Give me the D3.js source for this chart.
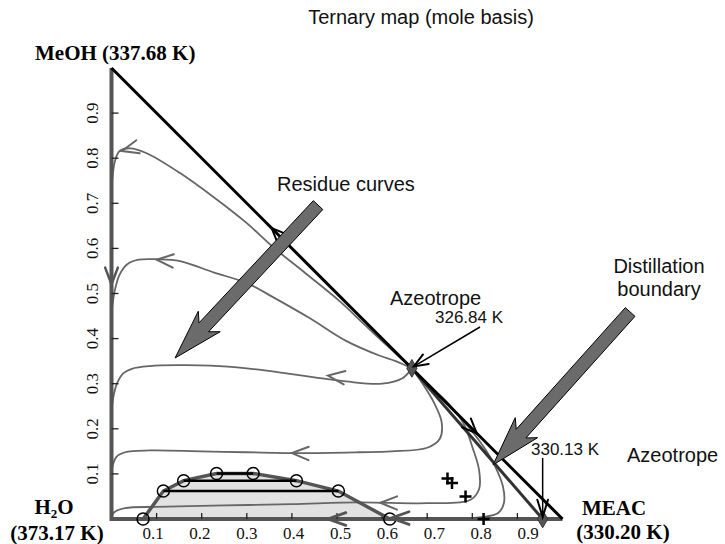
<!DOCTYPE html>
<html>
<head>
<meta charset="utf-8">
<script src="https://cdn.jsdelivr.net/npm/d3@7"></script>
<style>
  body { margin: 0; background: #fff; }
  svg { display: block; }
</style>
</head>
<body>
<svg id="chart" width="725" height="544"></svg>
<script>
// Compositions are [x_MEAC, x_MeOH]; x_H2O = 1 - x_MEAC - x_MeOH.
const tickValues = [0.1, 0.2, 0.3, 0.4, 0.5, 0.6, 0.7, 0.8, 0.9];
const tickLabels = ["0.1", "0.2", "0.3", "0.4", "0.5", "0.6", "0.7", "0.8", "0.9"];

const vertexMeOH = [0, 1];
const vertexH2O = [0, 0];
const vertexMEAC = [1, 0];

const azeotropeTernary = [0.666, 0.334];   // 326.84 K
const azeotropeBinary = [0.956, 0];        // 330.13 K

// Residue curves, ordered from the azeotrope toward water
const residueCurve1 = [[0.666,0.334],[0.62,0.376],[0.56,0.432],[0.507,0.482],[0.43,0.545],[0.358,0.603],[0.30,0.656],[0.226,0.714],[0.152,0.767],[0.078,0.811],[0.041,0.822],[0.018,0.816],[0.008,0.795],[0.003,0.765],[0.0,0.73]];
const residueCurve2 = [[0.666,0.334],[0.63,0.35],[0.595,0.362],[0.52,0.395],[0.44,0.445],[0.358,0.492],[0.30,0.523],[0.226,0.547],[0.152,0.572],[0.10,0.576],[0.06,0.575],[0.035,0.565],[0.018,0.542],[0.008,0.51],[0.0,0.46]];
const residueCurve3 = [[0.666,0.334],[0.645,0.312],[0.60,0.300],[0.52,0.305],[0.45,0.314],[0.38,0.324],[0.30,0.334],[0.22,0.340],[0.15,0.341],[0.085,0.339],[0.045,0.333],[0.026,0.323],[0.012,0.300],[0.004,0.27],[0.0,0.24]];
const residueCurve4 = [[0.666,0.334],[0.69,0.300],[0.715,0.258],[0.732,0.215],[0.728,0.178],[0.700,0.158],[0.62,0.150],[0.55,0.148],[0.42,0.146],[0.30,0.148],[0.20,0.150],[0.085,0.152],[0.03,0.148],[0.011,0.138],[0.003,0.12],[0.0,0.10]];
const residueCurve5 = [[0.666,0.334],[0.705,0.295],[0.745,0.258],[0.78,0.213],[0.80,0.160],[0.815,0.109],[0.815,0.066],[0.795,0.042],[0.70,0.035],[0.55,0.037],[0.40,0.033],[0.25,0.030],[0.10,0.027],[0.03,0.024],[0.006,0.015],[0.0,0.005]];
const residueCurve6 = [[0.666,0.334],[0.72,0.282],[0.78,0.218],[0.825,0.160],[0.85,0.118],[0.868,0.072],[0.870,0.035],[0.858,0.014],[0.82,0.004],[0.76,0.001]];
const residueCurves = [residueCurve1, residueCurve2, residueCurve3, residueCurve4, residueCurve5, residueCurve6];

// Flow-direction arrowheads: [curve index, x_MEAC, x_MeOH]
const curveArrows = [[0, 0.023, 0.816], [1, 0.10, 0.575], [2, 0.48, 0.318], [3, 0.40, 0.146], [4, 0.596, 0.036]];

// Liquid-liquid envelope (binodal) points and tie lines (index pairs)
const binodal = [[0.07,0],[0.115,0.062],[0.16,0.085],[0.233,0.101],[0.314,0.101],[0.41,0.085],[0.503,0.062],[0.617,0]];
const tieLines = [[1, 6], [2, 5], [3, 4]];

// Experimental points
const plusPoints = [[0.745,0.090],[0.755,0.080],[0.785,0.050],[0.825,0.0]];

const svg = d3.select("#chart");
const x = d3.scaleLinear().domain([0, 1]).range([111.5, 562.5]);
const y = d3.scaleLinear().domain([0, 1]).range([519, 68]);
const xLabel = d3.scaleLinear().domain([0.1, 0.9]).range([153, 528]);
const P = d => [x(d[0]), y(d[1])];

const smooth = d3.line().x(d => x(d[0])).y(d => y(d[1])).curve(d3.curveCatmullRom.alpha(0.5));
const straight = d3.line().x(d => x(d[0])).y(d => y(d[1]));

const curveColor = "#666";
const edgeColor = "#555";

// Two-phase region
svg.append("path")
  .datum(binodal)
  .attr("d", d3.area().x(d => x(d[0])).y0(y(0)).y1(d => y(d[1])))
  .attr("fill", "#e2e2e2");

// Residue curves
svg.append("g").selectAll("path")
  .data(residueCurves)
  .join("path")
  .attr("d", smooth)
  .attr("fill", "none")
  .attr("stroke", curveColor)
  .attr("stroke-width", 1.8);

// Binary edges (H2O-MeOH and H2O-MEAC)
svg.append("path").attr("d", straight([vertexMeOH, vertexH2O, vertexMEAC]))
  .attr("fill", "none").attr("stroke", edgeColor).attr("stroke-width", 4)
  .attr("stroke-linejoin", "miter");

// Tick marks on the two axes
const ticks = svg.append("g").attr("stroke", "#222").attr("stroke-width", 1.3);
ticks.selectAll(".ty").data(tickValues).join("line")
  .attr("x1", x(0)).attr("x2", x(0) + 7)
  .attr("y1", d => y(d)).attr("y2", d => y(d));
ticks.selectAll(".tx").data(tickValues).join("line")
  .attr("x1", d => x(d)).attr("x2", d => x(d))
  .attr("y1", y(0)).attr("y2", y(0) - 6);

// Distillation boundary
svg.append("path").attr("d", straight([azeotropeTernary, azeotropeBinary]))
  .attr("stroke", "#333").attr("stroke-width", 3).attr("fill", "none");

// MeOH-MEAC edge
svg.append("path").attr("d", straight([vertexMeOH, vertexMEAC]))
  .attr("stroke", "#000").attr("stroke-width", 3).attr("fill", "none");

// Binodal curve, tie lines and points
svg.append("path").datum(binodal).attr("d", straight)
  .attr("fill", "none").attr("stroke", edgeColor).attr("stroke-width", 3.5);
svg.append("g").selectAll("line").data(tieLines).join("line")
  .attr("x1", d => x(binodal[d[0]][0])).attr("y1", d => y(binodal[d[0]][1]))
  .attr("x2", d => x(binodal[d[1]][0])).attr("y2", d => y(binodal[d[1]][1]))
  .attr("stroke", "#000").attr("stroke-width", 2.5);
svg.append("g").selectAll("circle").data(binodal).join("circle")
  .attr("cx", d => x(d[0])).attr("cy", d => y(d[1])).attr("r", 6)
  .attr("fill", "none").attr("stroke", "#000").attr("stroke-width", 1.5);

// Chevron arrowhead pointing along angle a (radians) with its tip at (px, py)
function chevron(g, px, py, a, len, spread, color, w) {
  const a1 = a + Math.PI - spread, a2 = a + Math.PI + spread;
  g.append("path")
    .attr("d", `M${px + len * Math.cos(a1)},${py + len * Math.sin(a1)}L${px},${py}L${px + len * Math.cos(a2)},${py + len * Math.sin(a2)}`)
    .attr("fill", "none").attr("stroke", color).attr("stroke-width", w)
    .attr("stroke-linejoin", "miter").attr("stroke-linecap", "round");
}
// Direction of travel at the point of a polyline nearest to p
function heading(points, p) {
  const pts = points.map(P), q = P(p);
  let best = null, bd = Infinity;
  for (let i = 0; i < pts.length - 1; i++) {
    const [ax, ay] = pts[i], [bx, by] = pts[i + 1];
    const dx = bx - ax, dy = by - ay, L2 = dx * dx + dy * dy;
    let t = ((q[0] - ax) * dx + (q[1] - ay) * dy) / L2;
    t = Math.max(0, Math.min(1, t));
    const d = Math.hypot(ax + t * dx - q[0], ay + t * dy - q[1]);
    if (d < bd) { bd = d; best = Math.atan2(dy, dx); }
  }
  return best;
}

const arrows = svg.append("g");
curveArrows.forEach(([ci, a, b]) => {
  const [px, py] = P([a, b]);
  chevron(arrows, px, py, heading(residueCurves[ci], [a, b]), 18, 0.38, curveColor, 2);
});
// Arrows on the edges
{
  let [px, py] = P([0, 0.52]);
  chevron(arrows, px, py, heading([vertexMeOH, vertexH2O], [0, 0.52]), 18, 0.36, edgeColor, 2.5);
  [px, py] = P([0.48, 0.0]);
  chevron(arrows, px, py, heading([azeotropeBinary, vertexH2O], [0.48, 0]), 19, 0.34, edgeColor, 2.8);
  [px, py] = P([0.62, 0.002]);
  chevron(arrows, px, py, heading([azeotropeBinary, vertexH2O], [0.62, 0]), 19, 0.34, edgeColor, 2.8);
  [px, py] = P([0.355, 0.645]);
  chevron(arrows, px, py, heading([azeotropeTernary, vertexMeOH], [0.355, 0.645]), 16, 0.4, "#000", 2);
  [px, py] = P([0.81, 0.19]);
  chevron(arrows, px, py, heading([azeotropeTernary, vertexMEAC], [0.81, 0.19]), 16, 0.4, "#000", 2);
}

// Experimental points
svg.append("g").selectAll("path").data(plusPoints).join("path")
  .attr("transform", d => `translate(${x(d[0])},${y(d[1])})`)
  .attr("d", "M-6,0H6M0,-6V6")
  .attr("stroke", "#000").attr("stroke-width", 2.5);

// Azeotrope markers
svg.append("g").selectAll("path").data([azeotropeTernary, azeotropeBinary]).join("path")
  .attr("transform", d => `translate(${x(d[0])},${y(d[1])})`)
  .attr("d", d3.symbol(d3.symbolDiamond, 90))
  .attr("fill", "#555").attr("stroke", "#333").attr("stroke-width", 1);

// Block arrows pointing at the residue curves and the boundary
function blockArrow(tail, tip, shaftW, headW, headL) {
  const [tx, ty] = P(tail), [hx, hy] = P(tip);
  const L = Math.hypot(hx - tx, hy - ty);
  const ux = (hx - tx) / L, uy = (hy - ty) / L, nx = -uy, ny = ux;
  const bx = hx - ux * headL, by = hy - uy * headL;
  const pts = [
    [tx + nx * shaftW / 2, ty + ny * shaftW / 2],
    [bx + nx * shaftW / 2 + ux * 4, by + ny * shaftW / 2 + uy * 4],
    [bx + nx * headW / 2 - ux * 4, by + ny * headW / 2 - uy * 4],
    [hx, hy],
    [bx - nx * headW / 2 - ux * 4, by - ny * headW / 2 - uy * 4],
    [bx - nx * shaftW / 2 + ux * 4, by - ny * shaftW / 2 + uy * 4],
    [tx - nx * shaftW / 2, ty - ny * shaftW / 2]
  ];
  svg.append("path").attr("d", "M" + pts.map(p => p.join(",")).join("L") + "Z")
    .attr("fill", "#6b6b6b").attr("stroke", "#000").attr("stroke-width", 1);
}
blockArrow([0.458, 0.696], [0.141, 0.357], 13, 30, 46);
blockArrow([1.15, 0.459], [0.846, 0.12], 13, 30, 46);

// Thin pointer arrows for the azeotrope temperatures
function pointer(from, to, len, spread) {
  const [fx, fy] = from, [tx, ty] = to;
  svg.append("line").attr("x1", fx).attr("y1", fy).attr("x2", tx).attr("y2", ty)
    .attr("stroke", "#000").attr("stroke-width", 1.5);
  chevron(svg, tx, ty, Math.atan2(ty - fy, tx - fx), len, spread, "#000", 2);
}
{
  const [ax, ay] = P(azeotropeTernary);
  pointer([480, 327], [ax + 2, ay - 2], 15, 0.38);
  const [bx, by] = P(azeotropeBinary);
  pointer([bx, 458], [bx, by - 2], 18, 0.3);
}

// Tick labels
const serif = "'Liberation Serif', 'Times New Roman', serif";
const sans = "'Liberation Sans', Arial, sans-serif";
svg.append("g").selectAll("text").data(tickValues).join("text")
  .attr("transform", d => `translate(98,${y(d)}) rotate(-90)`)
  .attr("text-anchor", "middle")
  .attr("font-family", serif).attr("font-size", 17).attr("fill", "#111")
  .text((d, i) => tickLabels[i]);
svg.append("g").selectAll("text").data(tickValues).join("text")
  .attr("x", d => xLabel(d)).attr("y", 539)
  .attr("text-anchor", "middle")
  .attr("font-family", serif).attr("font-size", 17).attr("fill", "#111")
  .text((d, i) => tickLabels[i]);

// Component labels
const bold = { "font-family": serif, "font-weight": "bold", "font-size": 21, fill: "#000" };
function label(tx, ty, anchor, style, str) {
  const t = svg.append("text").attr("x", tx).attr("y", ty).attr("text-anchor", anchor).text(str);
  Object.entries(style).forEach(([k, v]) => t.attr(k, v));
  return t;
}
label(35, 60, "start", bold, "MeOH (337.68 K)");
{
  const t = label(54, 514, "middle", bold, "H");
  t.append("tspan").attr("font-size", 13).attr("dy", 4).text("2");
  t.append("tspan").attr("dy", -4).text("O");
}
label(57, 540, "middle", bold, "(373.17 K)");
label(614, 515, "middle", bold, "MEAC");
label(623, 539, "middle", bold, "(330.20 K)");

// Annotations
const ann = { "font-family": sans, "font-size": 20, fill: "#111" };
const annSmall = { "font-family": sans, "font-size": 17, fill: "#111" };
label(421, 24, "middle", { "font-family": sans, "font-size": 20, fill: "#111" }, "Ternary map (mole basis)");
label(277, 191, "start", ann, "Residue curves");
label(390, 305, "start", ann, "Azeotrope");
label(435, 323, "start", annSmall, "326.84 K");
label(659, 273, "middle", ann, "Distillation");
label(659, 296, "middle", ann, "boundary");
label(531, 455, "start", annSmall, "330.13 K");
label(627, 462, "start", ann, "Azeotrope");
</script>
</body>
</html>
